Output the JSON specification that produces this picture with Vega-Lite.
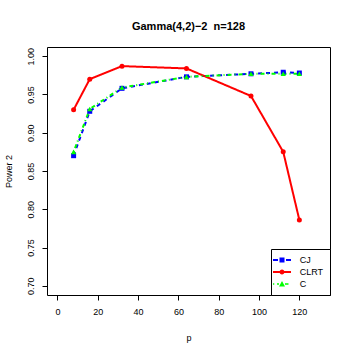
{
  "$schema": "https://vega.github.io/schema/vega-lite/v6.json",
  "width": 283,
  "height": 248,
  "autosize": {"type": "none"},
  "padding": {"left": 47, "top": 47, "right": 24, "bottom": 59},
  "background": "white",
  "title": {"text": "Gamma(4,2)\u22122 \u00a0n=128", "font": "Liberation Sans", "fontSize": 11, "fontWeight": "bold", "color": "black", "anchor": "middle", "offset": 15},
  "config": {
    "view": {"stroke": "black", "strokeWidth": 1},
    "axis": {"domain": false, "grid": false, "tickColor": "black", "tickSize": 5, "tickWidth": 1, "labelFont": "Liberation Sans", "labelFontSize": 9, "labelColor": "black", "titleFont": "Liberation Sans", "titleFontSize": 9, "titleFontWeight": "normal", "titleColor": "black"},
    "legend": {"title": null, "orient": "bottom-right", "offset": 0, "strokeColor": "black", "fillColor": "white", "padding": 6, "symbolSize": 100, "rowPadding": 2, "labelOffset": 12.7, "labelFont": "Liberation Sans", "labelFontSize": 9, "labelColor": "black", "symbolStrokeWidth": 0, "symbolOpacity": 1, "cornerRadius": 0}
  },
  "data": {"values": [
    {"p": 8, "method": "CJ", "power": 0.870},
    {"p": 16, "method": "CJ", "power": 0.928},
    {"p": 32, "method": "CJ", "power": 0.958},
    {"p": 64, "method": "CJ", "power": 0.973},
    {"p": 96, "method": "CJ", "power": 0.977},
    {"p": 112, "method": "CJ", "power": 0.979},
    {"p": 120, "method": "CJ", "power": 0.978},
    {"p": 8, "method": "CLRT", "power": 0.930},
    {"p": 16, "method": "CLRT", "power": 0.970},
    {"p": 32, "method": "CLRT", "power": 0.987},
    {"p": 64, "method": "CLRT", "power": 0.984},
    {"p": 96, "method": "CLRT", "power": 0.948},
    {"p": 112, "method": "CLRT", "power": 0.875},
    {"p": 120, "method": "CLRT", "power": 0.786},
    {"p": 8, "method": "C", "power": 0.875},
    {"p": 16, "method": "C", "power": 0.931},
    {"p": 32, "method": "C", "power": 0.959},
    {"p": 64, "method": "C", "power": 0.973},
    {"p": 96, "method": "C", "power": 0.977},
    {"p": 112, "method": "C", "power": 0.977},
    {"p": 120, "method": "C", "power": 0.977}
  ]},
  "encoding": {
    "x": {"field": "p", "type": "quantitative", "scale": {"domain": [-5.2, 135.2], "nice": false, "zero": false},
      "axis": {"values": [0, 20, 40, 60, 80, 100, 120], "title": "p", "labelPadding": 7, "titlePadding": 17}},
    "y": {"field": "power", "type": "quantitative", "scale": {"domain": [0.688, 1.012], "nice": false, "zero": false},
      "axis": {"values": [0.70, 0.75, 0.80, 0.85, 0.90, 0.95, 1.00], "format": ".2f", "labelAngle": 270, "labelPadding": 7, "title": "Power 2", "titlePadding": 13}},
    "color": {"field": "method", "type": "nominal", "scale": {"domain": ["CJ", "CLRT", "C"], "range": ["#0000ff", "#ff0000", "#00ff00"]}, "legend": {"title": null}}
  },
  "layer": [
    {"mark": {"type": "line", "strokeWidth": 2},
      "encoding": {"strokeDash": {"field": "method", "type": "nominal", "scale": {"domain": ["CJ", "CLRT", "C"], "range": [[4, 4], [1, 0], [1, 3, 4, 3]]}, "legend": null}}},
    {"transform": [{"filter": "datum.method === 'CJ'"}],
      "mark": {"type": "point", "filled": true, "opacity": 1, "shape": "square", "size": 25}},
    {"transform": [{"filter": "datum.method === 'CLRT'"}],
      "mark": {"type": "point", "filled": true, "opacity": 1, "shape": "circle", "size": 25}},
    {"transform": [{"filter": "datum.method === 'C'"}],
      "mark": {"type": "point", "filled": true, "opacity": 1, "shape": "triangle-up", "size": 28}},
    {"mark": {"type": "point", "filled": true, "opacity": 0, "size": 100},
      "encoding": {"shape": {"field": "method", "type": "nominal", "scale": {"domain": ["CJ", "CLRT", "C"], "range": [
        "M-1.8,-0.2H-0.8V0.2H-1.8Z M0.8,-0.2H1.8V0.2H0.8Z M-0.5,-0.5H0.5V0.5H-0.5Z",
        "M-1.8,-0.2H1.8V0.2H-1.8Z M-0.5,0A0.5,0.5 0 1,1 0.5,0A0.5,0.5 0 1,1 -0.5,0Z",
        "M-1.8,-0.15H-1.55V0.15H-1.8Z M-1.0,-0.15H-0.6V0.15H-1.0Z M0.6,-0.15H1.3V0.15H0.6Z M0,-0.6L0.6,0.5H-0.6Z"
      ]}, "legend": {"title": null}}}}
  ]
}
